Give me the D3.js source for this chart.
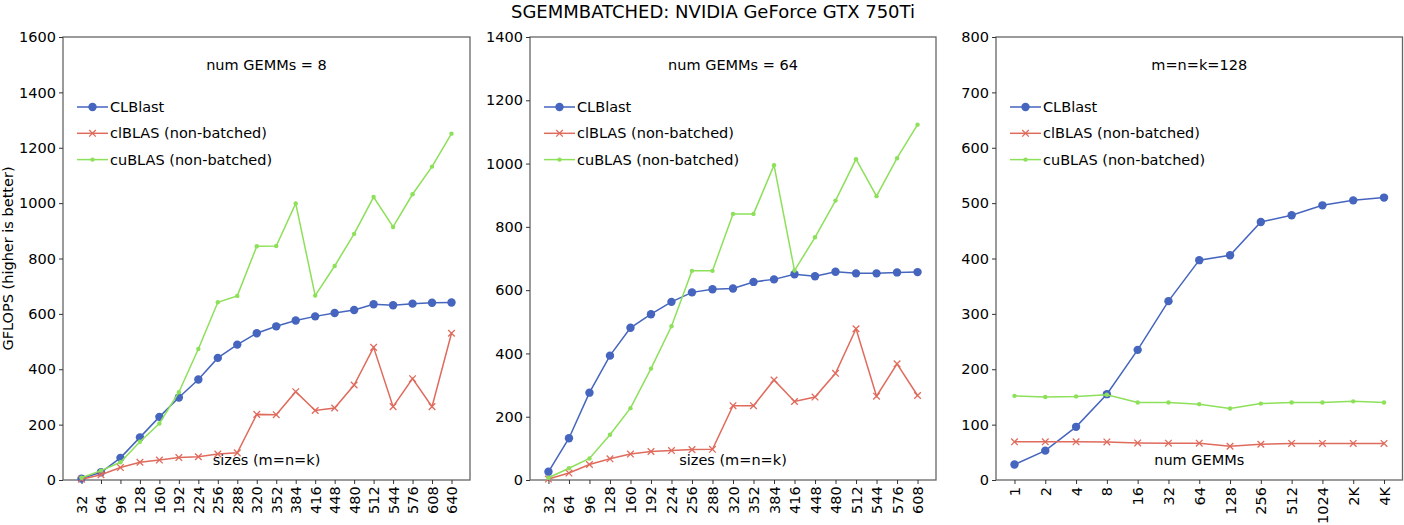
<!DOCTYPE html>
<html>
<head>
<meta charset="utf-8">
<script src="https://cdn.jsdelivr.net/npm/d3@7"></script>
<style>
  body { margin: 0; background: #fff; }
  svg { display: block; font-family: "DejaVu Sans", sans-serif; }
</style>
</head>
<body>
<svg id="chart" width="1404" height="525"></svg>
<script>
// ---------- data ----------
const title = "SGEMMBATCHED: NVIDIA GeForce GTX 750Ti";
const yLabel = "GFLOPS (higher is better)";
const seriesNames = ["CLBlast", "clBLAS (non-batched)", "cuBLAS (non-batched)"];

// panel 1: num GEMMs = 8
const sizes8 = ["32","64","96","128","160","192","224","256","288","320","352","384","416","448","480","512","544","576","608","640"];
const clblast8 = [5,28,80,154,228,298,363,441,489,530,555,576,591,603,614,635,631,637,640,641];
const clblas8  = [3,19,45,64,72,81,84,94,98,237,236,319,251,260,343,479,265,366,265,530];
const cublas8  = [8,34,64,138,204,317,473,642,665,844,845,999,666,773,889,1022,914,1032,1132,1251];
const yTicks8 = [0,200,400,600,800,1000,1200,1400,1600];

// panel 2: num GEMMs = 64
const sizes64 = ["32","64","96","128","160","192","224","256","288","320","352","384","416","448","480","512","544","576","608"];
const clblast64 = [26,132,276,393,481,524,563,593,603,605,626,634,650,644,658,653,653,656,657];
const clblas64  = [3,22,49,67,82,90,93,96,97,235,235,316,248,262,337,478,265,367,267];
const cublas64  = [7,37,68,143,227,352,486,661,661,841,841,995,662,767,883,1014,897,1017,1123];
const yTicks64 = [0,200,400,600,800,1000,1200,1400];

// panel 3: m=n=k=128
const numGemms = [1,2,4,8,16,32,64,128,256,512,1024,2048,4096];
const numGemmLabels = ["1","2","4","8","16","32","64","128","256","512","1024","2K","4K"];
const clblast128 = [28,53,96,155,235,323,397,406,466,478,496,505,510];
const clblas128  = [69,69,69,68.7,67,66.5,66.5,61,64.5,66,66,66,66];
const cublas128  = [152,150,151,154,140,140,137,129,138,140,140,142,140];
const yTicks128 = [0,100,200,300,400,500,600,700,800];

// ---------- styles ----------
const colors = ["#4565be", "#df6b5d", "#8de05a"];
const spineColor = "#666";
const fontSize = 14.5;

const svg = d3.select("#chart");
const plotTop = 37, plotBottom = 480;

const panels = [
  { left: 63, right: 470, labels: sizes8, series: [clblast8, clblas8, cublas8], yMax: 1600, yTicks: yTicks8,
    note: "num GEMMs = 8", xlabel: "sizes (m=n=k)", log: false, labelAlign: "bottom" },
  { left: 530, right: 936, labels: sizes64, series: [clblast64, clblas64, cublas64], yMax: 1400, yTicks: yTicks64,
    note: "num GEMMs = 64", xlabel: "sizes (m=n=k)", log: false, labelAlign: "bottom" },
  { left: 996, right: 1402.5, labels: numGemmLabels, xvals: numGemms, series: [clblast128, clblas128, cublas128], yMax: 800, yTicks: yTicks128,
    note: "m=n=k=128", xlabel: "num GEMMs", log: true, labelAlign: "top" }
];

svg.append("text")
  .attr("x", 713).attr("y", 18)
  .attr("text-anchor", "middle")
  .attr("font-size", 18)
  .attr("fill", "#000")
  .text(title);

svg.append("text")
  .attr("transform", `translate(13,${(plotTop + plotBottom) / 2}) rotate(-90)`)
  .attr("text-anchor", "middle")
  .attr("font-size", fontSize)
  .text(yLabel);

panels.forEach((p, pi) => {
  const n = p.labels.length;
  let x, xpos;
  if (p.log) {
    x = d3.scaleLog().base(2).domain([Math.pow(2, -0.6), Math.pow(2, 12.6)]).range([p.left, p.right]);
    xpos = i => x(p.xvals[i]);
  } else {
    const m = 0.05 * (n - 1);
    x = d3.scaleLinear().domain([-m, n - 1 + m]).range([p.left, p.right]);
    xpos = i => x(i);
  }
  const y = d3.scaleLinear().domain([0, p.yMax]).range([plotBottom, plotTop]);

  const g = svg.append("g");

  // frame
  g.append("rect")
    .attr("x", p.left).attr("y", plotTop)
    .attr("width", p.right - p.left).attr("height", plotBottom - plotTop)
    .attr("fill", "none").attr("stroke", spineColor).attr("stroke-width", 1.3);

  // y axis
  const yAxis = g.append("g")
    .attr("transform", `translate(${p.left},0)`)
    .call(d3.axisLeft(y).tickValues(p.yTicks).tickSize(4).tickPadding(3).tickFormat(d3.format("d")));
  yAxis.select(".domain").remove();
  yAxis.selectAll("line").attr("stroke", "#333");
  yAxis.selectAll("text").attr("font-size", fontSize).attr("font-family", "DejaVu Sans").attr("fill", "#000");

  // x axis
  const xAxis = g.append("g")
    .attr("transform", `translate(0,${plotBottom})`)
    .call(d3.axisBottom(x)
      .tickValues(p.log ? p.xvals : d3.range(n))
      .tickSize(4)
      .tickFormat((d, i) => p.labels[i]));
  xAxis.select(".domain").remove();
  xAxis.selectAll("line").attr("stroke", "#333");
  xAxis.selectAll("text")
    .attr("font-size", fontSize)
    .attr("font-family", "DejaVu Sans")
    .attr("fill", "#000")
    .attr("dy", null)
    .attr("y", 0)
    .attr("dominant-baseline", "central")
    .attr("text-anchor", p.labelAlign === "bottom" ? "start" : "end")
    .attr("transform", p.labelAlign === "bottom" ? "translate(0,34) rotate(-90)" : "translate(0,7) rotate(-90)");

  // note
  g.append("text")
    .attr("x", (p.left + p.right) / 2).attr("y", 70)
    .attr("text-anchor", "middle").attr("font-size", fontSize)
    .text(p.note);

  // x label inside
  g.append("text")
    .attr("x", (p.left + p.right) / 2).attr("y", 465)
    .attr("text-anchor", "middle").attr("font-size", fontSize)
    .text(p.xlabel);

  // series
  const line = d3.line().x((d, i) => xpos(i)).y(d => y(d));
  p.series.forEach((vals, si) => {
    const sg = g.append("g");
    sg.append("path").datum(vals)
      .attr("d", line).attr("fill", "none")
      .attr("stroke", colors[si]).attr("stroke-width", 1.5);
    if (si === 0) {
      sg.selectAll("circle").data(vals).join("circle")
        .attr("cx", (d, i) => xpos(i)).attr("cy", d => y(d)).attr("r", 4.2)
        .attr("fill", colors[si]);
    } else if (si === 1) {
      sg.selectAll("path.mk").data(vals).join("path").attr("class", "mk")
        .attr("d", (d, i) => {
          const cx = xpos(i), cy = y(d), s = 3.3;
          return `M${cx - s},${cy - s}L${cx + s},${cy + s}M${cx - s},${cy + s}L${cx + s},${cy - s}`;
        })
        .attr("stroke", colors[si]).attr("stroke-width", 1.3).attr("fill", "none");
    } else {
      sg.selectAll("circle").data(vals).join("circle")
        .attr("cx", (d, i) => xpos(i)).attr("cy", d => y(d)).attr("r", 2.2)
        .attr("fill", colors[si]);
    }
  });

  // legend
  const lg = g.append("g").attr("transform", `translate(${p.left + 14},107)`);
  seriesNames.forEach((name, si) => {
    const ly = si * 26.3;
    lg.append("line").attr("x1", 0).attr("x2", 31).attr("y1", ly).attr("y2", ly)
      .attr("stroke", colors[si]).attr("stroke-width", 1.5);
    if (si === 0) {
      lg.append("circle").attr("cx", 15.5).attr("cy", ly).attr("r", 4.2).attr("fill", colors[si]);
    } else if (si === 1) {
      const s = 3.3;
      lg.append("path")
        .attr("d", `M${15.5 - s},${ly - s}L${15.5 + s},${ly + s}M${15.5 - s},${ly + s}L${15.5 + s},${ly - s}`)
        .attr("stroke", colors[si]).attr("stroke-width", 1.3);
    } else {
      lg.append("circle").attr("cx", 15.5).attr("cy", ly).attr("r", 2.2).attr("fill", colors[si]);
    }
    lg.append("text").attr("x", 33).attr("y", ly).attr("dy", "0.35em")
      .attr("font-size", fontSize).text(name);
  });
});
</script>
</body>
</html>
